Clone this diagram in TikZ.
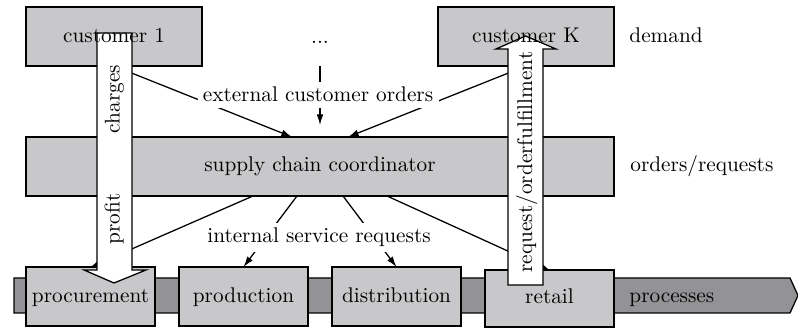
\documentclass[tikz,border=0pt]{standalone}
\usetikzlibrary{fit,arrows.meta}
\definecolor{boxgray}{RGB}{200,200,202}
\definecolor{bargray}{RGB}{147,147,150}
\begin{document}
\begin{tikzpicture}[x=0.47pt,y=-0.47pt,
  box/.style={draw=black, fill=boxgray, line width=0.6pt, inner sep=0pt, outer sep=0pt},
  conn/.style={line width=0.6pt, -{Latex[length=5pt,width=3.2pt]}},
  fat/.style={draw=black, fill=white, line width=0.6pt},
  mask/.style={fill=white, inner sep=2.5pt},
  txt/.style={anchor=base, inner sep=0pt},
  side/.style={anchor=base west, inner sep=0pt}]
\useasboundingbox (0,0) rectangle (798,328);
% process bar
\path[box, fill=bargray] (14,278) -- (790,278) -- (798,295.5) -- (790,313) -- (14,313) -- cycle;
% boxes
\node[box, fit={(26,7)(202,66)}] (c1) {};
\node[box, fit={(438,7)(614,66)}] (ck) {};
\node[box, fit={(26,137)(614,196)}] (scc) {};
\node[box, fit={(26,267)(155,326)}] (proc) {};
\node[box, fit={(179,267)(308,326)}] (prod) {};
\node[box, fit={(332,267)(461,326)}] (dist) {};
\node[box, fit={(485,270)(614,327)}] (ret) {};
% connector anchors
\coordinate (sccA) at (292,137);
\coordinate (sccB) at (348,137);
\coordinate (dotsB) at (320,66);
\coordinate (midE) at (320,125);
\coordinate (s1) at (253,196);
\coordinate (s2) at (297,196);
\coordinate (s3) at (343,196);
\coordinate (s4) at (387,196);
\node[txt] (dots) at (320,44) {...};
% connectors
\draw[conn] (c1.south) -- (sccA);
\draw[conn] (ck.south) -- (sccB);
\draw[conn] (dotsB) -- (midE);
\draw[conn] (s1) -- (proc.north);
\draw[conn] (s2) -- (prod.north);
\draw[conn] (s3) -- (dist.north);
\draw[conn] (s4) -- (ret.north);
% connector labels
\node[mask, anchor=base] (ext) at (318,102) {external customer orders};
\node[mask, anchor=base] (int) at (319,243) {internal service requests};
% fat arrows
\draw[fat] (97,33) -- (132,33) -- (132,270) -- (146,270) -- (114,283) -- (84,270) -- (97,270) -- cycle;
\draw[fat] (508,285) -- (508,49) -- (496,49) -- (525.5,36) -- (556,49) -- (543,49) -- (543,285) -- cycle;
\node[rotate=90, anchor=base] (chg) at (119.5,99) {charges};
\node[rotate=90, anchor=base] (prf) at (119.5,219) {profit};
\node[rotate=90, anchor=base] (rof) at (532,162) {request/orderfulfillment};
% box texts
\node[txt] (t1) at (114,43) {customer 1};
\node[txt] (tk) at (526,43) {customer K};
\node[txt] (ts) at (320,172) {supply chain coordinator};
\node[txt] (tp) at (90.5,303) {procurement};
\node[txt] (tpr) at (243.5,303) {production};
\node[txt] (td) at (396.5,303) {distribution};
\node[txt] (tr) at (549.5,304) {retail};
% layer labels
\node[side] (ldem) at (629,43) {demand};
\node[side] (lord) at (630,172) {orders/requests};
\node[side] (lpro) at (629,303) {processes};
\end{tikzpicture}
\end{document}
